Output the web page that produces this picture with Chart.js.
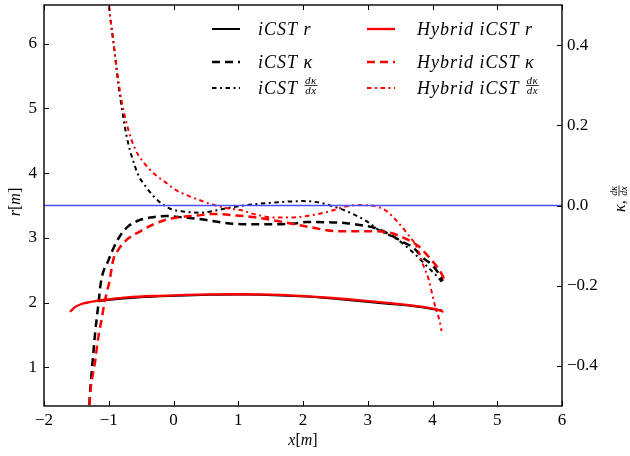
<!DOCTYPE html>
<html><head><meta charset="utf-8">
<script src="https://cdn.jsdelivr.net/npm/chart.js@4.4.1/dist/chart.umd.min.js"></script>
<style>html,body{margin:0;padding:0;background:#fff}canvas{display:block}</style>
</head><body>
<canvas id="c" width="630" height="456"></canvas>
<script>
// ---- tick labels ----
const X_TICKS = [-2, -1, 0, 1, 2, 3, 4, 5, 6];
const R_TICKS = [1, 2, 3, 4, 5, 6];
const K_TICKS = [-0.4, -0.2, 0.0, 0.2, 0.4];

// ---- iCST r (left axis) ----
const icstR_x = [-1.17, -0.9, -0.72, -0.4, -0.21, 0.2, 0.56, 1.0, 1.34, 1.95, 2.4, 2.73, 3.1, 3.5, 3.8, 4.06, 4.15];
const icstR_y = [2.02, 2.05, 2.065, 2.085, 2.095, 2.11, 2.12, 2.125, 2.12, 2.095, 2.065, 2.035, 2.0, 1.965, 1.93, 1.89, 1.875];

// ---- Hybrid iCST r (left axis) ----
const hybR_x = [-1.60, -1.56, -1.52, -1.45, -1.39, -1.3, -1.19, -1.0, -0.72, -0.21, 0.2, 0.56, 1.0, 1.34, 1.95, 2.4, 2.73, 3.1, 3.5, 3.8, 4.06, 4.17];
const hybR_y = [1.856, 1.895, 1.93, 1.965, 1.986, 2.005, 2.026, 2.05, 2.079, 2.104, 2.117, 2.125, 2.128, 2.125, 2.104, 2.075, 2.048, 2.015, 1.975, 1.94, 1.893, 1.856];

// ---- iCST kappa (right axis) ----
const icstK_x = [-1.31, -1.29, -1.25, -1.21, -1.16, -1.12, -1.0, -0.9, -0.8, -0.7, -0.55, -0.36, -0.105, 0.15, 0.46, 0.77, 1.13, 1.54, 1.85, 2.06, 2.4, 2.67, 2.9, 3.09, 3.34, 3.52, 3.7, 3.85, 4.01, 4.12, 4.16];
const icstK_y = [-0.53, -0.47, -0.39, -0.317, -0.246, -0.19, -0.135, -0.097, -0.07, -0.052, -0.038, -0.030, -0.026, -0.030, -0.035, -0.043, -0.047, -0.047, -0.045, -0.041, -0.042, -0.044, -0.049, -0.055, -0.072, -0.089, -0.105, -0.13, -0.151, -0.176, -0.188];

// ---- Hybrid iCST kappa (right axis) ----
const hybK_x = [-1.31, -1.28, -1.25, -1.21, -1.18, -1.15, -1.11, -1.07, -1.03, -0.99, -0.93, -0.85, -0.72, -0.52, -0.31, -0.105, 0.1, 0.36, 0.62, 0.98, 1.28, 1.75, 2.11, 2.52, 2.98, 3.34, 3.6, 3.78, 3.93, 4.06, 4.17, 4.19];
const hybK_y = [-0.53, -0.458, -0.425, -0.388, -0.35, -0.317, -0.284, -0.246, -0.217, -0.19, -0.135, -0.11, -0.085, -0.065, -0.047, -0.035, -0.029, -0.025, -0.021, -0.025, -0.030, -0.043, -0.054, -0.064, -0.064, -0.068, -0.084, -0.101, -0.126, -0.151, -0.18, -0.19];

// ---- iCST dkappa/dx (right axis) ----
const icstD_x = [-1.02, -0.97, -0.93, -0.9, -0.85, -0.8, -0.75, -0.7, -0.6, -0.55, -0.41, -0.29, -0.16, -0.055, 0.15, 0.41, 0.67, 0.85, 1.08, 1.44, 1.8, 2.0, 2.26, 2.42, 2.67, 2.98, 3.16, 3.45, 3.7, 3.91, 4.06, 4.17];
const icstD_y = [0.53, 0.46, 0.41, 0.37, 0.30, 0.245, 0.195, 0.155, 0.10, 0.078, 0.043, 0.02, 0.002, -0.008, -0.015, -0.018, -0.012, -0.006, 0.0, 0.006, 0.01, 0.011, 0.007, 0.0, -0.014, -0.039, -0.06, -0.084, -0.117, -0.151, -0.175, -0.195];

// ---- Hybrid iCST dkappa/dx (right axis) ----
const hybD_x = [-1.02, -0.97, -0.93, -0.9, -0.85, -0.8, -0.7, -0.59, -0.45, -0.29, -0.1, 0.02, 0.2, 0.41, 0.56, 0.87, 1.03, 1.28, 1.54, 1.8, 2.06, 2.21, 2.42, 2.67, 2.93, 3.14, 3.29, 3.45, 3.6, 3.76, 3.86, 3.94, 3.99, 4.04, 4.11, 4.14];
const hybD_y = [0.53, 0.46, 0.41, 0.37, 0.31, 0.26, 0.19, 0.14, 0.105, 0.078, 0.055, 0.040, 0.026, 0.013, 0.004, -0.008, -0.011, -0.023, -0.030, -0.030, -0.026, -0.022, -0.014, -0.002, 0.001, -0.003, -0.014, -0.039, -0.068, -0.105, -0.15, -0.184, -0.217, -0.251, -0.288, -0.313];

// ---- zero reference line (right axis) ----
const zero_x = [-2, 6];
const zero_y = [0, 0];

const LEGEND_LABELS = ['iCST r', 'iCST \u03BA', 'iCST ', 'Hybrid iCST r', 'Hybrid iCST \u03BA', 'Hybrid iCST '];

const pts = (xs, ys) => xs.map((x, i) => ({x: x, y: ys[i]}));
const SERIF = '"Liberation Serif", "DejaVu Serif", serif';
const RED = '#ff0000', BLACK = '#000000';
const DASH = [8, 5], DASHDOT = [4.5, 3.5, 2, 3.5];

function mk(data, axis, color, width, dash) {
  return {data: data, yAxisID: axis, borderColor: color, backgroundColor: color, borderWidth: width,
    borderDash: dash, borderCapStyle: 'butt', pointRadius: 0, fill: false, cubicInterpolationMode: 'monotone'};
}

const datasets = [
  mk(pts(zero_x, zero_y), 'y2', '#4d4dff', 1.6, []),
  mk(pts(hybR_x, hybR_y), 'y', RED, 2.3, []),
  mk(pts(hybK_x, hybK_y), 'y2', RED, 2.5, DASH),
  mk(pts(hybD_x, hybD_y), 'y2', RED, 2.0, DASHDOT),
  mk(pts(icstR_x, icstR_y), 'y', BLACK, 2.0, []),
  mk(pts(icstK_x, icstK_y), 'y2', BLACK, 2.5, DASH),
  mk(pts(icstD_x, icstD_y), 'y2', BLACK, 2.0, DASHDOT),
];

function runs(ctx, parts, x, y, size, align) {
  let total = 0;
  const ws = parts.map(p => { ctx.font = (p[1] ? 'italic ' : '') + size + 'px ' + SERIF; const w = ctx.measureText(p[0]).width; total += w; return w; });
  let cx = align === 'center' ? x - total / 2 : x;
  ctx.textAlign = 'left';
  parts.forEach((p, i) => { ctx.font = (p[1] ? 'italic ' : '') + size + 'px ' + SERIF; ctx.fillText(p[0], cx, y); cx += ws[i]; });
  return total;
}
function frac(ctx, x, bar, num, den, size) {
  ctx.font = 'italic ' + size + 'px ' + SERIF;
  const w = Math.max(ctx.measureText(num).width, ctx.measureText(den).width) + 1;
  ctx.textAlign = 'center'; ctx.textBaseline = 'alphabetic';
  ctx.fillText(num, x + w / 2, bar - 2);
  ctx.fillText(den, x + w / 2, bar + size * 0.75);
  ctx.fillRect(x, bar - 0.4, w, 0.8);
  ctx.textBaseline = 'middle';
  return w;
}

const deco = {
  id: 'deco',
  afterDraw(chart) {
    const ctx = chart.ctx, a = chart.chartArea, s = chart.scales;
    ctx.save();
    ctx.fillStyle = '#000';
    ctx.strokeStyle = '#000';
    ctx.lineWidth = 1.4;
    ctx.strokeRect(a.left, a.top, a.right - a.left, a.bottom - a.top);
    const TL = 5;
    ctx.lineWidth = 1;
    ctx.beginPath();
    X_TICKS.forEach(v => { const p = Math.round(s.x.getPixelForValue(v)) + 0.5; ctx.moveTo(p, a.bottom); ctx.lineTo(p, a.bottom - TL); ctx.moveTo(p, a.top); ctx.lineTo(p, a.top + TL); });
    R_TICKS.forEach(v => { const p = Math.round(s.y.getPixelForValue(v)) + 0.5; ctx.moveTo(a.left, p); ctx.lineTo(a.left + TL, p); });
    K_TICKS.forEach(v => { const p = Math.round(s.y2.getPixelForValue(v)) + 0.5; ctx.moveTo(a.right, p); ctx.lineTo(a.right - TL, p); });
    ctx.stroke();

    // axis titles
    ctx.textBaseline = 'middle';
    runs(ctx, [['x', true], ['[', false], ['m', true], [']', false]], (a.left + a.right) / 2, 441, 16, 'center');
    ctx.save(); ctx.translate(16, 202); ctx.rotate(-Math.PI / 2);
    runs(ctx, [['r', true], ['[', false], ['m', true], [']', false]], 0, 0, 16, 'center');
    ctx.restore();
    ctx.save(); ctx.translate(621, 197); ctx.rotate(-Math.PI / 2);
    const w1 = runs(ctx, [['\u03BA', true], [',', false]], -15, 0, 16, 'left');
    frac(ctx, -15 + w1 + 4, -2, 'd\u03BA', 'dx', 10);
    ctx.restore();

    // legend
    const cols = [[212, 258], [367, 417]];
    const rows = [29, 62, 88];
    const ds = chart.data.datasets;
    const order = [[4, 5, 6], [1, 2, 3]];
    ctx.letterSpacing = '1px';
    order.forEach((col, ci) => {
      col.forEach((di, ri) => {
        const d = ds[di], y = rows[ri];
        ctx.save();
        ctx.strokeStyle = d.borderColor; ctx.lineWidth = d.borderWidth; ctx.setLineDash(d.borderDash);
        ctx.beginPath(); ctx.moveTo(cols[ci][0], y); ctx.lineTo(cols[ci][0] + 28, y); ctx.stroke();
        ctx.restore();
        ctx.fillStyle = '#000'; ctx.textBaseline = 'middle';
        const label = LEGEND_LABELS[ci === 0 ? ri : 3 + ri];
        const w = runs(ctx, [[label, true]], cols[ci][1], y + 1, 18, 'left');
        if (ri === 2) { ctx.letterSpacing = '0.5px'; frac(ctx, cols[ci][1] + w + 1, 85.5, 'd\u03BA', 'dx', 11); ctx.letterSpacing = '1px'; }
      });
    });
    ctx.restore();
  }
};

const tickFont = {family: 'Liberation Serif', size: 17};
const fmtInt = v => (v < 0 ? '\u2212' : '') + Math.abs(v);
const fmtK = v => (v < -1e-9 ? '\u2212' : '') + Math.abs(v).toFixed(1);
const noPadV = sc => { sc.paddingTop = 0; sc.paddingBottom = 0; };
const noPadH = sc => { sc.paddingLeft = 0; sc.paddingRight = 0; };

new Chart(document.getElementById('c'), {
  type: 'line',
  data: {datasets: datasets},
  plugins: [deco],
  options: {
    responsive: false, animation: false, parsing: true,
    layout: {padding: {top: 5, left: 0, right: 0, bottom: 0}},
    plugins: {legend: {display: false}, tooltip: {enabled: false}},
    scales: {
      x: {type: 'linear', min: -2, max: 6, position: 'bottom',
        afterBuildTicks: sc => { sc.ticks = X_TICKS.map(v => ({value: v})); },
        afterFit: sc => { sc.height = 50; noPadH(sc); },
        grid: {display: false, drawTicks: false}, border: {display: false},
        ticks: {font: tickFont, color: '#000', padding: 4, maxRotation: 0, autoSkip: false, callback: fmtInt}},
      y: {type: 'linear', min: 0.4, max: 6.6, position: 'left',
        afterBuildTicks: sc => { sc.ticks = R_TICKS.map(v => ({value: v})); },
        afterFit: sc => { sc.width = 44; noPadV(sc); },
        grid: {display: false, drawTicks: false}, border: {display: false},
        ticks: {font: tickFont, color: '#000', padding: 7, autoSkip: false, callback: fmtInt}},
      y2: {type: 'linear', min: -0.5, max: 0.5, position: 'right',
        afterBuildTicks: sc => { sc.ticks = K_TICKS.map(v => ({value: v})); },
        afterFit: sc => { sc.width = 68; noPadV(sc); },
        grid: {display: false, drawTicks: false}, border: {display: false},
        ticks: {font: tickFont, color: '#000', padding: 5, autoSkip: false, callback: fmtK}}
    }
  }
});
</script>
</body></html>
